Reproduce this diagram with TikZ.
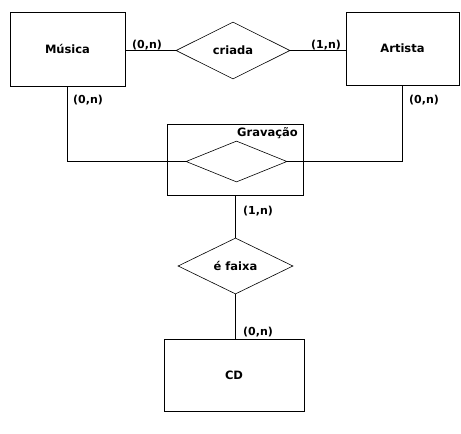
\documentclass[tikz,border=0pt]{standalone}
\usepackage{fontspec}
\setmainfont{DejaVu Sans}
\usetikzlibrary{shapes.geometric}
\begin{document}
\begin{tikzpicture}[x=1pt,y=-1pt,
  every node/.style={font=\bfseries\fontsize{11.5}{13}\selectfont},
  entity/.style={draw,line width=1pt,rectangle,inner sep=0pt},
  rel/.style={draw,line width=0.6pt,diamond,inner sep=0pt},
  card/.style={inner sep=0pt,font=\bfseries\fontsize{11}{13}\selectfont},
  conn/.style={line width=0.8pt}]
\useasboundingbox (0,0) rectangle (461,434);
\node[entity,minimum width=115pt,minimum height=74pt] (musica) at (67.5,49) {Música};
\node[entity,minimum width=113pt,minimum height=73pt] (artista) at (402.5,48.5) {Artista};
\node[rel,minimum width=114pt,minimum height=57pt] (criada) at (233,50.5) {criada};
\node[entity,minimum width=136pt,minimum height=71pt] (gravbox) at (235,159.5) {};
\node[rel,minimum width=101pt,minimum height=41pt] (grav) at (236.5,161.5) {};
\node[inner sep=0pt,anchor=east] (gravlbl) at (298,133) {Gravação};
\node[rel,minimum width=115pt,minimum height=56pt] (faixa) at (235.5,266) {é faixa};
\node[entity,minimum width=140pt,minimum height=72pt] (cd) at (234,375) {CD};
\draw[conn] (criada.west) -- (criada.west -| musica.east);
\draw[conn] (criada.east) -- (criada.east -| artista.west);
\draw[conn] (musica.south) |- (grav.west);
\draw[conn] (artista.south) |- (grav.east);
\draw[conn] (faixa.north) -- (faixa.north |- gravbox.south);
\draw[conn] (faixa.south) -- (faixa.south |- cd.north);
\node[card] (c1) at (147,45) {(0,n)};
\node[card] (c2) at (326,45) {(1,n)};
\node[card] (c3) at (88,100) {(0,n)};
\node[card] (c4) at (424,100) {(0,n)};
\node[card] (c5) at (258,211) {(1,n)};
\node[card] (c6) at (258,332) {(0,n)};
\end{tikzpicture}
\end{document}
